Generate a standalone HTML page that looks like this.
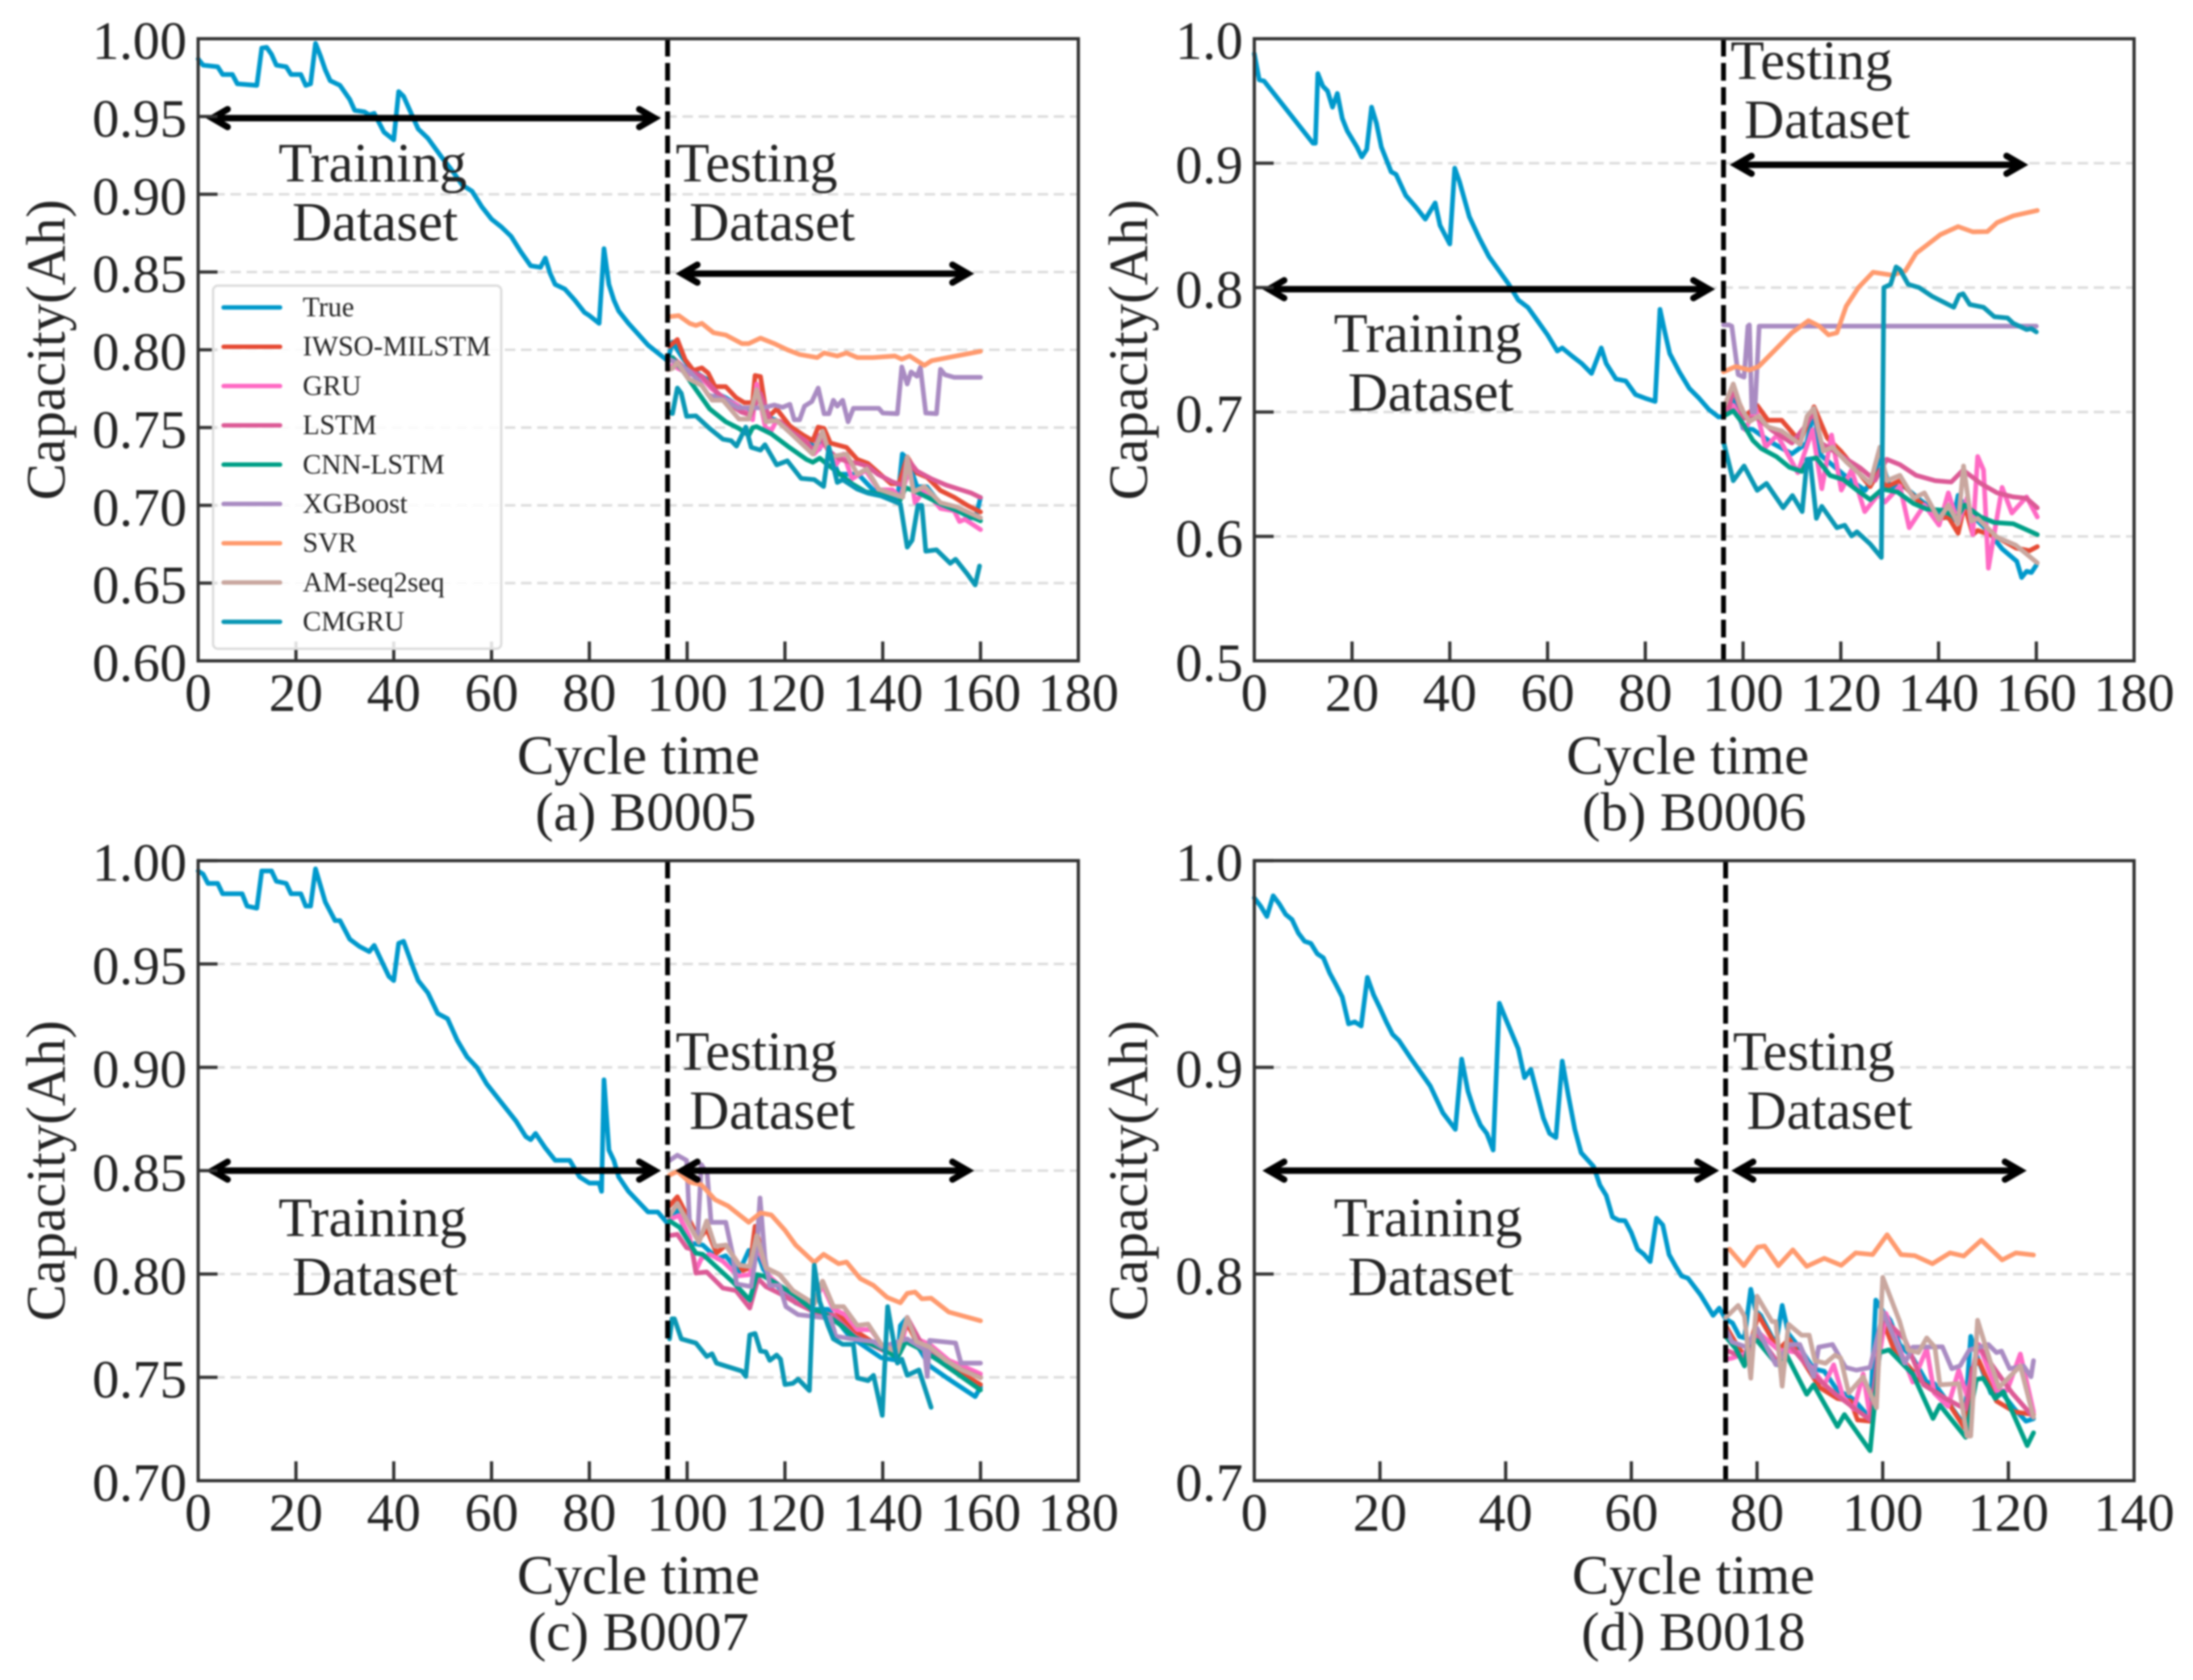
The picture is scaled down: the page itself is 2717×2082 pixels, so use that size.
<!DOCTYPE html>
<html lang="en">
<head>
<meta charset="utf-8">
<title>Capacity prediction for B0005, B0006, B0007 and B0018</title>
<style>
html,body{margin:0;padding:0;background:#fff;}
#figure{display:block;width:2717px;height:2082px;font-family:"Liberation Serif",serif;filter:blur(1px);}
</style>
</head>
<body>
<svg id="figure" xmlns="http://www.w3.org/2000/svg" width="2717" height="2082" viewBox="0 0 2717 2082"></svg>
<script>
const xTicksLong = [0,20,40,60,80,100,120,140,160,180];
const xTicksShort = [0,20,40,60,80,100,120,140];
const yTicksA = ["0.60","0.65","0.70","0.75","0.80","0.85","0.90","0.95","1.00"];
const yTicksB = ["0.5","0.6","0.7","0.8","0.9","1.0"];
const yTicksC = ["0.70","0.75","0.80","0.85","0.90","0.95","1.00"];
const yTicksD = ["0.7","0.8","0.9","1.0"];
const seriesNames = ["True","IWSO-MILSTM","GRU","LSTM","CNN-LSTM","XGBoost","SVR","AM-seq2seq","CMGRU"];

const a_true = [[0,.987],[1,.983],[4,.982],[5,.977],[7,.977],[8,.971],[12,.970],[13,.994],[14,.9945],[15,.990],[16,.983],[18,.982],[19,.977],[21,.977],[22,.970],[23,.971],[24,.997],[25,.989],[26,.98],[27,.973],[29,.970],[31,.961],[32,.954],[34,.953],[35,.951],[36,.952],[38,.94],[40,.935],[41,.966],[42,.963],[43,.956],[45,.942],[47,.936],[50,.923],[52,.915],[54,.906],[56,.902],[58,.892],[60,.884],[62,.879],[64,.873],[66,.863],[68,.854],[70,.853],[71,.859],[72,.849],[73,.842],[75,.839],[77,.832],[79,.824],[80,.822],[82,.817],[83,.865],[84,.842],[85,.832],[86,.825],[88,.817],[90,.81],[92,.803],[94,.798],[96,.793],[97,.805],[99,.795],[101,.787],[104,.781],[106,.772],[108,.769],[110,.765],[112,.761],[113,.760],[114,.769],[115,.769],[116,.757],[118,.755],[121,.748],[124,.742],[127,.736],[128,.742],[129,.7355],[131,.72],[135,.72],[138,.71],[142,.705],[143,.702],[144,.733],[145,.73],[147,.712],[149,.712],[152,.70],[155,.697],[158,.692],[159,.692],[160,.705]];
const a_iwso = [[96.4,.8023],[98,.8066],[99.6,.7936],[101.3,.7867],[103,.7884],[104.3,.785],[105.7,.7763],[107.9,.7763],[110,.7693],[111.7,.766],[113.4,.766],[113.9,.7835],[115,.7828],[116.1,.7607],[117,.758],[118.3,.762],[121,.751],[123.8,.745],[125.7,.7416],[126.8,.7503],[128,.7494],[129.3,.74],[132.6,.7373],[134.8,.7295],[137,.7269],[139.2,.7208],[141.7,.7139],[143.3,.7139],[145,.7312],[147,.7208],[149.1,.718],[151.8,.7095],[154.6,.7052],[157.3,.70],[160,.6957]];
const a_gru = [[97,.79],[100,.785],[103,.782],[105,.775],[108,.768],[110,.765],[112,.76],[113.4,.755],[114.2,.778],[116,.75],[117.2,.748],[118.3,.7546],[121,.7477],[124.4,.741],[126,.733],[128,.74],[130.4,.726],[132,.733],[133.7,.717],[136.5,.7225],[139.2,.71],[142,.71],[143.6,.705],[145.5,.724],[146.6,.7017],[148.5,.71],[151.8,.698],[154.6,.6965],[155.7,.6896],[156.8,.691],[160,.6844]];
const a_lstm = [[97,.795],[100,.787],[103,.783],[106,.773],[108,.767],[111,.76],[113,.758],[114,.765],[115,.772],[117,.755],[119,.754],[121,.748],[124,.742],[126,.735],[127,.745],[129,.735],[131,.73],[133,.728],[135,.727],[137,.725],[139,.72],[142,.715],[144,.713],[145,.73],[147,.722],[150,.717],[153,.713],[156,.71],[158,.708],[160,.705]];
const a_cnn = [[97,.795],[99,.787],[101.8,.7745],[104.6,.762],[107.9,.7537],[110.6,.7494],[112.6,.745],[113.4,.75],[114.2,.7506],[117.2,.746],[121,.737],[124.4,.7295],[125.7,.7277],[127.1,.7303],[128.8,.726],[131,.7208],[133.7,.7139],[136.5,.7087],[139.7,.707],[143.3,.7017],[144.7,.7113],[146.3,.7095],[149.1,.7052],[151.8,.7009],[154.6,.6974],[160,.69]];
const a_xgb = [[96.5,.7936],[97.7,.792],[100.2,.787],[102.4,.78],[104.3,.771],[107.9,.7676],[110.4,.7627],[115.6,.7627],[117.8,.7645],[119.5,.763],[121,.765],[121.9,.755],[123,.755],[124,.7638],[125.5,.7667],[126.8,.7754],[128,.7589],[129,.7589],[129.9,.7676],[130.7,.7638],[131.8,.7676],[132.9,.7537],[134,.7624],[139.2,.7624],[140,.7593],[143,.7589],[143.9,.789],[145,.778],[145.8,.7858],[147,.783],[147.7,.7887],[148.8,.7593],[151,.7589],[151.8,.7875],[152.7,.784],[154.6,.7823],[160,.7823]];
const a_svr = [[96.5,.8213],[98.3,.822],[100.5,.817],[101.8,.8156],[103,.817],[105.4,.811],[107.9,.8095],[111.2,.804],[112.6,.804],[115,.8075],[117.8,.804],[120.5,.8],[123,.797],[126.6,.795],[128,.798],[130.7,.796],[132.6,.798],[134.8,.795],[138,.795],[142.5,.796],[143.9,.794],[145.5,.796],[148.5,.79],[150,.793],[160,.799]];
const a_am = [[96,.787],[97,.788],[98,.7919],[100.2,.7815],[103,.777],[105.1,.7676],[107.3,.7676],[110.6,.7555],[112.6,.7555],[114.2,.7745],[116.1,.7537],[118.3,.7546],[121,.7468],[125.7,.7329],[127.7,.7477],[129.3,.7312],[132.6,.733],[134.8,.72],[136.7,.7234],[139.2,.7104],[144.1,.7052],[145,.7312],[146.3,.7087],[148.5,.7121],[151.8,.7017],[155.1,.699],[160,.692]];
const a_cmgru = [[96.4,.7598],[97,.759],[98,.7754],[98.8,.772],[99.9,.7572],[101.8,.7575],[104.6,.7494],[107.3,.7425],[109,.7416],[110.1,.7381],[112,.7503],[113.1,.7373],[115,.7355],[115.9,.739],[118.3,.726],[120.5,.7286],[123.3,.7173],[126,.7165],[127.9,.7121],[129,.7373],[130.7,.7147],[131.8,.7165],[134.8,.7104],[137,.7078],[139.7,.706],[143.6,.7009],[145,.6731],[146,.6775],[147.2,.70],[148,.70],[148.8,.6705],[151,.6714],[153.8,.6627],[154.9,.6653],[157.3,.6558],[158.9,.6488],[159.8,.661]];

const b_true = [[0,.988],[1,.967],[2,.966],[12,.916],[12.5,.916],[13,.972],[14,.962],[15,.958],[16,.945],[17,.956],[18,.936],[19,.926],[21,.913],[22,.905],[23,.911],[24,.945],[25,.932],[26,.913],[28,.893],[29,.891],[31,.874],[33,.865],[35,.855],[37,.868],[38,.85],[40,.835],[41,.896],[42,.885],[44,.857],[46,.84],[48,.825],[50,.814],[52,.803],[54,.79],[56,.784],[58,.773],[60,.762],[62,.749],[63,.7515],[65,.745],[67,.739],[69,.731],[71,.7515],[72,.739],[74,.7265],[76,.725],[78,.714],[80,.711],[82,.7085],[83,.7825],[84,.764],[85,.747],[87,.732],[89,.719],[91,.711],[93,.702],[95,.696],[96,.6965],[98,.71],[100,.687],[102,.686],[106,.675],[110,.6664],[113,.675],[114.5,.70],[116,.665],[119,.655],[122,.645],[125,.637],[127,.65],[128,.665],[130,.64],[133,.64],[136,.63],[140,.618],[143,.613],[144,.633],[146,.62],[150,.605],[153,.59],[156,.58],[157,.567],[158,.572],[159,.571],[160,.577]];
const b_iwso = [[96,.70],[98,.7183],[100.4,.6966],[102.9,.7053],[105.1,.6934],[107.9,.6934],[111.7,.676],[114.5,.7042],[117.2,.6793],[120,.6685],[126,.64],[128,.6534],[129.4,.64],[132.1,.6448],[135.4,.63],[140.4,.6145],[142,.6155],[144,.6026],[145.3,.6253],[147,.6015],[148,.6048],[152,.5993],[155.8,.5907],[158.6,.5885],[160.2,.5918]];
const b_gru = [[96,.70],[98,.7053],[100.4,.6858],[102.6,.7031],[104.6,.6718],[107,.6815],[111.2,.6512],[114.2,.6858],[116.1,.6383],[118.1,.6815],[120.1,.6372],[122.2,.6534],[124.9,.6199],[127.7,.634],[129,.6275],[132.1,.6404],[134,.607],[137.1,.6253],[140.1,.6091],[142,.635],[144,.6102],[145.9,.6318],[147,.6015],[148,.6642],[149.2,.6534],[150.2,.5745],[153,.6394],[155,.6188],[158,.6318],[160.2,.6156]];
const b_lstm = [[97,.70],[98,.72],[100,.695],[103,.695],[106,.685],[110,.675],[113,.69],[114.5,.70],[116,.675],[120,.665],[124,.655],[127,.645],[129.4,.662],[132.1,.6577],[135.4,.6491],[139.3,.6448],[142.6,.6437],[145,.6534],[148.6,.6426],[152,.635],[155.3,.6318],[158,.6307],[160.2,.623]];
const b_cnn = [[96,.6966],[98,.701],[99.9,.6912],[102,.6772],[103.7,.6707],[106.8,.6642],[109.5,.6556],[112,.6523],[113.4,.662],[115,.6631],[117.8,.649],[120.5,.6458],[123.3,.6372],[126,.6296],[128.5,.638],[131.6,.6357],[134.9,.6264],[137.6,.622],[141,.621],[143.7,.6145],[145.3,.6253],[148.6,.6156],[151.4,.6112],[155.3,.6102],[160.2,.6015]];
const b_xgb = [[96,.77],[97.1,.77],[97.7,.769],[99,.73],[100.2,.728],[101,.769],[101.3,.77],[101.8,.70],[102.4,.70],[103.3,.769],[160,.769]];
const b_svr = [[96,.7323],[98.5,.7366],[101.3,.7338],[103.2,.7366],[106.2,.7485],[110,.7637],[113.4,.7734],[115.6,.769],[117.5,.762],[119.2,.7637],[121.1,.785],[123.6,.80],[126.6,.8123],[130.5,.81],[133.2,.8134],[135.4,.8275],[140.4,.8426],[144,.849],[147,.8448],[150,.845],[152,.8523],[155.3,.8577],[160.2,.862]];
const b_am = [[96,.7031],[98,.7226],[99.6,.703],[101.3,.6923],[103.2,.6966],[105.1,.688],[107.9,.6848],[111.7,.674],[113.1,.6966],[114.5,.7031],[116.4,.6685],[118.3,.6718],[121.1,.66],[126,.6426],[128,.6718],[129.4,.6448],[132.1,.6491],[134.9,.6307],[137.1,.635],[140.1,.6134],[142,.6253],[144,.6102],[145.1,.6566],[146.7,.6123],[148,.6145],[152,.5993],[155.8,.5929],[160.2,.5788]];
const b_cmgru = [[96,.676],[98,.6448],[100.2,.6566],[102.9,.637],[104.8,.6426],[108.2,.623],[110.1,.6329],[112.1,.62],[113.1,.662],[113.7,.662],[115,.6145],[116.1,.6242],[119.2,.607],[120.8,.609],[122.2,.6004],[123.3,.6037],[126,.594],[128.3,.5831],[128.8,.8],[130.2,.8026],[131.3,.8166],[132.1,.8145],[133.8,.8026],[136,.80],[138.7,.7929],[143.1,.7842],[144.2,.7939],[145,.795],[146.4,.7864],[149.2,.7842],[151.4,.7766],[154.1,.7756],[155.3,.7712],[158,.7663],[159,.767],[160,.7643]];

const c_true = [[0,.995],[1,.9935],[2,.989],[4,.989],[5,.984],[9,.984],[10,.978],[12,.977],[13,.995],[15,.995],[16,.99],[18,.989],[19,.984],[21,.984],[22,.978],[23,.978],[24,.996],[25,.988],[26,.98],[28,.971],[29,.971],[31,.962],[33,.9585],[35,.956],[36,.959],[38,.949],[39,.944],[40,.942],[41,.96],[42,.961],[44,.948],[45,.942],[47,.936],[49,.926],[51,.9235],[53,.913],[55,.905],[57,.90],[59,.892],[62,.883],[65,.874],[67,.8665],[68,.865],[69,.868],[71,.861],[73,.855],[76,.855],[78,.847],[80,.844],[82,.844],[82.5,.84],[83,.894],[84,.86],[85,.855],[86,.847],[88,.84],[90,.835],[92,.83],[94,.83],[96,.8245],[98,.831],[100.5,.815],[103.2,.814],[106.2,.8075],[107.9,.8088],[110.6,.801],[112.6,.8114],[114.2,.8114],[115.6,.8023],[118.9,.7932],[122.2,.786],[125.5,.7829],[128.8,.7829],[133.2,.7699],[139.7,.7595],[143,.7582],[143.6,.775],[145,.779],[146.9,.766],[149.6,.7556],[153.5,.7491],[158.9,.7407],[160,.7452]];
const c_iwso = [[96.4,.833],[98,.8374],[100.7,.825],[102.4,.8166],[104,.8218],[106,.8101],[107.9,.814],[111.4,.8017],[112.8,.803],[113.9,.8231],[116.1,.803],[118.9,.7997],[121.6,.792],[126,.7855],[127.7,.7965],[129.9,.7842],[131.5,.779],[134.8,.7718],[139.7,.7645],[143,.7621],[145,.776],[146.9,.7673],[151.8,.7582],[155.7,.7524],[160,.7465]];
const c_gru = [[96.4,.8264],[98.3,.8283],[100.5,.8179],[101.8,.8017],[102.9,.8075],[104.6,.8095],[107.3,.8062],[110.4,.7991],[112.8,.7997],[114.5,.8127],[116.7,.7991],[120,.792],[125.5,.7842],[127.7,.7945],[129.9,.783],[132.3,.7803],[134.8,.7731],[137.6,.7731],[139.7,.766],[143.6,.7621],[145,.779],[146.9,.7686],[149.6,.766],[153.5,.7582],[156.2,.7556],[160,.7517]];
const c_lstm = [[96.4,.8186],[98,.8192],[99.9,.8127],[101,.812],[101.8,.8004],[104,.801],[107.3,.7932],[110,.792],[112.8,.7835],[114.5,.7978],[116.1,.7939],[118.9,.7906],[122.7,.7855],[126.6,.7809],[129.9,.7802],[134.3,.7699],[139.7,.7634],[143,.7605],[145,.779],[148,.766],[151.8,.7595],[155.7,.7543],[160,.75]];
const c_cnn = [[96.4,.8257],[98.5,.8225],[101.8,.8101],[103.2,.8095],[106.2,.803],[109.5,.7958],[112.8,.7874],[114.2,.7997],[115.6,.7991],[118.9,.7945],[122.2,.7894],[125.5,.7829],[127.7,.7816],[131.5,.7751],[134.3,.7692],[139.8,.764],[143,.7595],[144.7,.7673],[148,.7634],[151.8,.7575],[155.7,.751],[160,.7439]];
const c_xgb = [[96.4,.8549],[98,.8575],[99.9,.855],[100.5,.8238],[102.1,.8166],[102.9,.853],[104.1,.8484],[104.9,.825],[107.9,.825],[109.3,.8095],[110.1,.7952],[113.1,.7939],[114.2,.8114],[114.9,.8368],[115.9,.8075],[116.9,.7945],[118.9,.7945],[120.2,.7842],[122.7,.7803],[127.7,.779],[129.3,.779],[130.4,.7699],[133.7,.7686],[138.1,.7673],[139.8,.7647],[145,.7686],[148.5,.7634],[149.1,.7504],[149.6,.7679],[154.9,.7666],[156,.7569],[160,.7569]];
const c_svr = [[96.4,.8478],[98,.8497],[100.5,.8445],[102.9,.8432],[105.7,.836],[108.4,.8329],[112.6,.825],[115,.8296],[117.2,.8286],[120,.8212],[122.2,.814],[126,.8056],[127.9,.8095],[131,.805],[132.6,.8058],[135.4,.7978],[138.1,.7945],[140.9,.7887],[143.6,.7861],[145,.7906],[146.6,.7913],[148,.788],[149.9,.7883],[153.5,.7816],[160,.7774]];
const c_am = [[96.4,.8283],[98,.8342],[100.7,.8225],[102.4,.8153],[104,.8257],[105.7,.8134],[107.9,.814],[110.6,.8043],[112.8,.8036],[114.2,.8186],[116.1,.803],[118.9,.7997],[121.6,.792],[126,.7855],[127.7,.7965],[129.9,.7842],[132,.7842],[134.8,.7751],[137,.7758],[139.7,.766],[143,.7621],[145,.779],[146.9,.7673],[149.6,.7647],[152.9,.7582],[156.2,.7536],[160,.7497]];
const c_cmgru = [[96.4,.7686],[96.9,.7783],[97.4,.7783],[98.8,.7686],[101.8,.7666],[104,.7601],[105.1,.7614],[106,.7569],[111.2,.753],[112,.7504],[112.8,.7705],[113.9,.7712],[115,.7627],[116.1,.7623],[116.9,.7582],[118.3,.7608],[119.1,.7588],[120,.7465],[121.6,.7471],[122.7,.7491],[125,.7436],[126,.8043],[127.1,.7868],[128.8,.7751],[129.9,.7686],[131.8,.766],[134,.766],[134.8,.7497],[137,.7484],[138.1,.751],[139.9,.7316],[141,.7842],[143,.7569],[143.9,.7588],[145,.751],[147.4,.7536],[149.9,.7355]];

const d_true = [[0,.982],[1,.978],[2,.973],[3,.983],[4,.979],[5,.974],[6,.9715],[7,.965],[8,.961],[9,.96],[10,.955],[11,.953],[12,.9456],[13,.94],[14,.934],[15,.921],[16,.922],[17,.92],[18,.9435],[19,.935],[20,.9287],[21,.922],[22,.916],[23,.913],[25,.904],[28,.891],[30,.878],[32,.87],[33,.904],[34,.8885],[35,.879],[36,.872],[37,.868],[38,.86],[39,.931],[40,.9235],[42,.909],[43,.895],[44,.899],[46,.8755],[47,.868],[48,.866],[49,.903],[50,.886],[51,.87],[52,.8587],[54,.852],[55,.843],[56,.838],[57,.8276],[58,.826],[59,.8258],[60,.82],[61,.812],[62,.8095],[63,.806],[64,.827],[65,.8237],[66,.8094],[67,.804],[68,.799],[69,.798],[70,.794],[71,.79],[72,.785],[73,.78],[74,.7835],[75,.7783],[76.1,.7763],[77.2,.7698],[78,.7691],[79,.7926],[79.8,.7822],[80.6,.78],[83,.7659],[84,.7848],[85,.7711],[87,.7634],[89,.7542],[90.7,.7529],[92.8,.7437],[94.5,.7411],[95.4,.7392],[97.5,.732],[98,.7314],[98.9,.7874],[100,.7822],[101.2,.7776],[102.7,.7659],[104.8,.7594],[107,.7477],[108.2,.747],[110.4,.7379],[113,.7268],[114,.7698],[115.1,.7594],[117.2,.7424],[119,.7424],[121,.7346],[122.8,.7288],[124,.73]];
const d_iwso = [[75,.775],[77,.7646],[78.3,.7594],[80.2,.7802],[83.4,.7633],[85.1,.7685],[90,.745],[92.8,.7398],[94.9,.7385],[96,.7294],[98,.7288],[100,.7776],[101.8,.7633],[106.5,.747],[110,.7398],[113,.7255],[114.2,.7542],[115.3,.7581],[118.1,.7385],[121,.7333],[124,.732]];
const d_gru = [[75,.7587],[76.1,.7594],[78,.7613],[80,.7724],[83.4,.7633],[86.8,.762],[90.7,.7464],[92.2,.7561],[93.7,.7405],[95.4,.7346],[96.9,.7516],[98,.7307],[100.5,.7809],[104.8,.7477],[107,.7639],[108.2,.7424],[110.4,.7359],[112.1,.7535],[113.4,.7411],[115.3,.7659],[118.1,.7437],[119.8,.7437],[121.9,.7613],[124,.7333]];
const d_lstm = [[75,.7633],[78,.7594],[80,.7711],[83.4,.7568],[85.1,.7659],[89.8,.749],[92.8,.7411],[98,.7294],[100,.7789],[103.5,.7685],[106.5,.7464],[110,.7398],[113.2,.7346],[115.1,.7659],[118.1,.7529],[120.6,.7424],[124,.7307]];
const d_cnn = [[75,.7698],[76.6,.7639],[78,.7555],[78.7,.7672],[80,.7678],[83.2,.7561],[84.5,.762],[87.9,.7418],[89,.7464],[92.8,.7262],[93.9,.732],[98,.7145],[99.5,.762],[101,.7633],[103.5,.7555],[104.8,.7516],[108,.7301],[109.1,.7366],[113.2,.721],[114.9,.749],[116,.7496],[117.9,.7398],[119.2,.7431],[123,.717],[124,.7232]];
const d_xgb = [[75,.7737],[76,.7672],[78.3,.7646],[80,.7737],[83,.7561],[85.1,.7659],[86.8,.7659],[89,.7503],[89.8,.7646],[92,.7659],[94.1,.7548],[95.8,.7535],[98,.7548],[100.1,.7815],[103.5,.7568],[104.8,.7646],[109.5,.7648],[111,.7542],[112.3,.7555],[113.8,.7633],[116.8,.7659],[118.1,.762],[118.9,.7627],[120.2,.7542],[122.4,.7555],[123.6,.7503],[124,.7581]];
const d_svr = [[75.6,.812],[77.9,.804],[80.1,.813],[81.2,.8135],[83.4,.804],[85.7,.8117],[87.9,.8037],[90.7,.8076],[93.4,.8042],[95.7,.8102],[98.4,.8094],[100.7,.819],[102.9,.8094],[105.1,.8089],[107.9,.805],[110.7,.8102],[112.9,.8087],[115.7,.8164],[119,.8068],[121.2,.8102],[124,.8092]];
const d_am = [[75,.7789],[77,.7848],[78,.7796],[79,.7496],[80,.7893],[82.4,.777],[83,.777],[84,.7457],[85,.7757],[87.1,.7704],[88.3,.7704],[89.2,.7581],[90.9,.7568],[92.4,.7607],[93.3,.7594],[94.6,.7424],[96.9,.7503],[99,.7353],[100,.7984],[102.7,.777],[104,.7633],[105.7,.762],[107,.7691],[108.3,.7646],[109.1,.7464],[112.1,.747],[113.4,.7216],[114,.7216],[115.1,.7776],[117.2,.7568],[118.5,.7451],[121.9,.7555],[124,.7307]];

const aSeries = [a_true,a_iwso,a_gru,a_lstm,a_cnn,a_xgb,a_svr,a_am,a_cmgru];
const bSeries = [b_true,b_iwso,b_gru,b_lstm,b_cnn,b_xgb,b_svr,b_am,b_cmgru];
const cSeries = [c_true,c_iwso,c_gru,c_lstm,c_cnn,c_xgb,c_svr,c_am,c_cmgru];
const dSeries = [d_true,d_iwso,d_gru,d_lstm,d_cnn,d_xgb,d_svr,d_am,null];

const seriesColors = ["#0099cc","#e64b35","#ff69c4","#dc5a96","#00a087","#a98bc2","#ff9a6e","#c9a79f","#0a97b4"];
const NS = "http://www.w3.org/2000/svg";
const root = document.getElementById("figure");
const INK = "#242424";

function mk(tag, attrs, parent){
  const n = document.createElementNS(NS, tag);
  for (const k in attrs) n.setAttribute(k, attrs[k]);
  parent.appendChild(n);
  return n;
}

function drawArrow(parent, name, x1, x2, y){
  const g = mk("g", {fill:"none", stroke:"#000", "stroke-width":8, "stroke-linecap":"round", "stroke-linejoin":"miter"}, parent);
  
  
  mk("line", {x1:x1+5, y1:y, x2:x2-5, y2:y}, g);
  mk("polyline", {points:(x1+24)+","+(y-11)+" "+(x1+5)+","+y+" "+(x1+24)+","+(y+11)}, g);
  mk("polyline", {points:(x2-24)+","+(y-11)+" "+(x2-5)+","+y+" "+(x2-24)+","+(y+11)}, g);
}

function drawText(parent, name, str, x, y, size, anchor){
  const t = mk("text", {x:x, y:y, "font-size":size, "text-anchor":anchor, fill:INK, "font-family":'"Liberation Serif", serif'}, parent);
  
  
  t.textContent = str;
  return t;
}

function drawPanel(p){
  const g = mk("g", {}, root);
  
  
  const sx = v => p.left + (v - 0) / p.xMax * (p.right - p.left);
  const sy = v => p.bottom - (v - p.yMin) / (p.yMax - p.yMin) * (p.bottom - p.top);

  p.yTicks.forEach(label => {
    const v = parseFloat(label);
    const y = sy(v);
    if (v > p.yMin && v < p.yMax) {
      const grid = mk("line", {x1:p.left, x2:p.right, y1:y, y2:y, stroke:"#dcdcdc", "stroke-width":3, "stroke-dasharray":"13 7"}, g);
      
      
    }
  });

  p.series.forEach((pts, i) => {
    if (!pts) return;
    const line = mk("polyline", {
      points: pts.map(d => sx(d[0]).toFixed(1) + "," + sy(d[1]).toFixed(1)).join(" "),
      fill:"none", stroke:seriesColors[i], "stroke-width":5.8, "stroke-linejoin":"round", "stroke-linecap":"round"
    }, g);
    
    
  });

  const split = mk("line", {x1:sx(p.split), x2:sx(p.split), y1:p.top, y2:p.bottom, stroke:"#000", "stroke-width":6, "stroke-dasharray":"22 8"}, g);
  
  

  drawArrow(g, 'training-range-arrow', p.trainArrow[0], p.trainArrow[1], sy(p.trainArrowV) + p.arrowShift);
  drawArrow(g, 'testing-range-arrow', p.testArrow[0], p.testArrow[1], sy(p.testArrowV) + p.arrowShift);

  drawText(g, 'training-label', "Training", p.trainText[0], p.trainText[1], 68.5, "start");
  drawText(g, 'training-dataset-label', "Dataset", p.trainText[2], p.trainText[1] + 73, 68.5, "start");
  drawText(g, 'testing-label', "Testing", p.testText[0], p.testText[1], 68.5, "start");
  drawText(g, 'testing-dataset-label', "Dataset", p.testText[2], p.testText[1] + 73, 68.5, "start");

  const frame = mk("rect", {x:p.left, y:p.top, width:p.right - p.left, height:p.bottom - p.top, fill:"none", stroke:"#333", "stroke-width":4}, g);
  
  

  p.xTicks.forEach(v => {
    const x = sx(v);
    const tick = mk("line", {x1:x, x2:x, y1:p.bottom, y2:p.bottom - 24, stroke:"#333", "stroke-width":4}, g);
    
    
    drawText(g, 'x-tick-label', String(v), x, p.bottom + 62, 67, "middle");
  });
  p.yTicks.forEach(label => {
    const y = sy(parseFloat(label));
    const tick = mk("line", {x1:p.left, x2:p.left + 24, y1:y, y2:y, stroke:"#333", "stroke-width":4}, g);
    
    
    drawText(g, 'y-tick-label', label, p.left - 14, y + 25, 67, "end");
  });

  const yt = drawText(g, 'y-axis-title', "Capacity(Ah)", 0, 0, 68.5, "middle");
  yt.setAttribute("transform", "translate(" + p.yTitleX + "," + ((p.top + p.bottom) / 2) + ") rotate(-90)");
  drawText(g, 'x-axis-title', "Cycle time", p.xTitleX, p.bottom + 140, 69, "middle");
  drawText(g, 'panel-caption', p.caption, p.captionX, p.bottom + 210, 68, "middle");
}

const panels = [
  {id:"a", left:245.5, right:1336, top:48, bottom:819, xMax:180, yMin:.6, yMax:1, xTicks:xTicksLong, yTicks:yTicksA, series:aSeries, split:96,
   arrowShift:2, trainArrow:[258,816], trainArrowV:.95, testArrow:[840,1204], testArrowV:.85, yTitleX:80,
   trainText:[345,225,362], testText:[837,225,854], xTitleX:791, captionX:800, caption:"(a) B0005"},
  {id:"b", left:1554, right:2644, top:48, bottom:819, xMax:180, yMin:.5, yMax:1, xTicks:xTicksLong, yTicks:yTicksB, series:bSeries, split:96,
   arrowShift:2, trainArrow:[1567,2122], trainArrowV:.8, testArrow:[2146,2510], testArrowV:.9, yTitleX:1421,
   trainText:[1652.5,436,1670], testText:[2144,98,2161], xTitleX:2091, captionX:2099, caption:"(b) B0006"},
  {id:"c", left:245.5, right:1336, top:1066.6, bottom:1835, xMax:180, yMin:.7, yMax:1, xTicks:xTicksLong, yTicks:yTicksC, series:cSeries, split:96,
   arrowShift:0, trainArrow:[258,816], trainArrowV:.85, testArrow:[840,1204], testArrowV:.85, yTitleX:80,
   trainText:[345,1532,362], testText:[837,1326,854], xTitleX:791, captionX:791, caption:"(c) B0007"},
  {id:"d", left:1554, right:2644, top:1066.6, bottom:1835, xMax:140, yMin:.7, yMax:1, xTicks:xTicksShort, yTicks:yTicksD, series:dSeries, split:75,
   arrowShift:0, trainArrow:[1567,2127], trainArrowV:.85, testArrow:[2148,2508], testArrowV:.85, yTitleX:1421,
   trainText:[1652.5,1532,1670], testText:[2147,1326,2164], xTitleX:2098, captionX:2098, caption:"(d) B0018"}
];
panels.forEach(drawPanel);

const legend = mk("g", {}, root);


const legendBox = mk("rect", {x:264, y:354, width:357, height:450, rx:6, ry:6, fill:"rgba(255,255,255,0.85)", stroke:"#dddddd", "stroke-width":3}, legend);


seriesNames.forEach((name, i) => {
  const y = 381 + i * 48.7;
  const key = mk("line", {x1:277, x2:347, y1:y, y2:y, stroke:seriesColors[i], "stroke-width":5.5, "stroke-linecap":"round"}, legend);
  
  
  drawText(legend, 'legend-entry', name, 375, y + 11, 34.4, "start");
});
</script>
</body>
</html>
